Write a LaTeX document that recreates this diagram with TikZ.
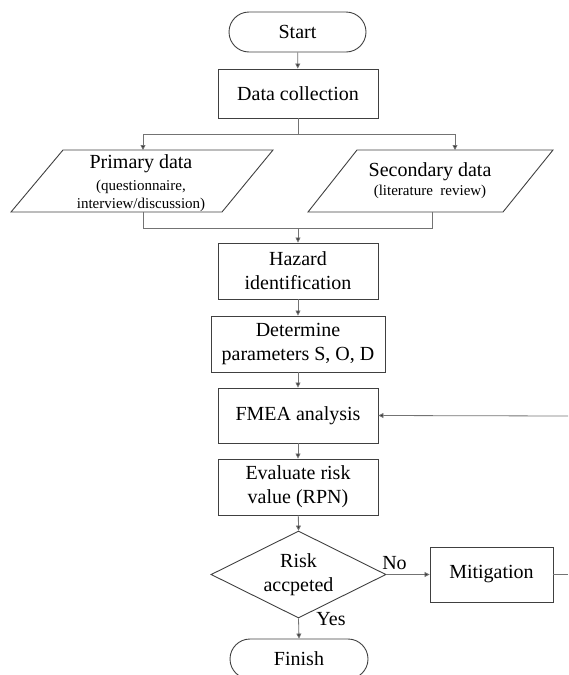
\documentclass[tikz,border=0pt]{standalone}
\usepackage{fontspec}
\setmainfont{Liberation Serif}
\usetikzlibrary{arrows.meta,shapes.geometric}
\begin{document}
\begin{tikzpicture}[x=1pt,y=-1pt,
  box/.style={draw=black!75,line width=0.9pt,rectangle,inner sep=0pt,align=center,font=\fontsize{20}{24}\selectfont},
  term/.style={box,rounded corners=20pt},
  txt/.style={inner sep=0pt,align=center,font=\fontsize{20}{24}\selectfont},
  small/.style={font=\fontsize{15}{18}\selectfont},
  shapeline/.style={draw=black!75,line width=0.9pt},
  conn/.style={draw=black!55,line width=0.8pt},
  arr/.style={conn,-{Triangle[length=5pt,width=5pt,fill=black!80]}},
  lab/.style={inner sep=0pt,font=\fontsize{20}{24}\selectfont}]
\useasboundingbox (0,0) rectangle (568,675);
\clip (0,0) rectangle (568,675);

\node[term,minimum width=137pt,minimum height=40pt] (start) at (297.5,32) {Start};
\node[box,minimum width=160pt,minimum height=49pt] (dc) at (298,93.5) {Data collection};

% parallelograms
\draw[shapeline] (63,150) -- (273,150) -- (222,212) -- (11,212) -- cycle;
\node[txt] (primary) at (141,183) {Primary data\\[-2pt]{\fontsize{15}{18}\selectfont (questionnaire,}\\[-6pt]{\fontsize{15}{18}\selectfont interview/discussion)}};
\draw[shapeline] (357,150) -- (553,150) -- (503,212) -- (308,212) -- cycle;
\node[txt] (secondary) at (430,181) {Secondary data\\[-5pt]{\fontsize{15}{18}\selectfont (literature\ \ review)}};

\coordinate (pt) at (143,150);
\coordinate (st) at (455,150);
\coordinate (pb) at (143,212);
\coordinate (sb) at (432,212);
\coordinate (split) at (298,134);
\coordinate (join) at (298,228);

\node[box,minimum width=160pt,minimum height=56pt] (hz) at (298,271) {Hazard\\identification};
\node[box,minimum width=174pt,minimum height=56pt] (dp) at (298,344) {Determine\\parameters S, O, D};
\node[box,minimum width=160pt,minimum height=55pt] (fm) at (298,415.5) {FMEA analysis};
\node[box,minimum width=160pt,minimum height=56pt] (ev) at (298,487) {Evaluate risk\\value (RPN)};
\node[box,diamond,aspect=2,minimum width=175pt,minimum height=87pt] (dia) at (298.5,574.5) {Risk\\accpeted};
\node[box,minimum width=123pt,minimum height=55pt] (mit) at (491.5,574.5) {Mitigation};
\node[term,minimum width=138pt,minimum height=40pt] (fin) at (299,659) {Finish};

\coordinate (edgeA) at (568,574.5);
\coordinate (edgeB) at (568,416);

\draw[arr] (start) -- (dc);
\draw[conn] (dc.south) -- (split);
\draw[arr] (split) -| (pt);
\draw[arr] (split) -| (st);
\draw[conn] (pb) |- (join);
\draw[conn] (sb) |- (join);
\draw[arr] (join) -- (hz.north);
\draw[arr] (hz) -- (dp);
\draw[arr] (dp) -- (fm);
\draw[arr] (fm) -- (ev);
\draw[arr] (ev) -- (dia.north);
\draw[arr] (dia.east) -- (mit.west);
\draw[conn] (mit.east) -- (edgeA);
\draw[arr] (edgeB) -- (fm.east);
\draw[arr] (dia.south) -- (fin.north);

\node[lab] (no) at (394.5,563) {No};
\node[lab] (yes) at (331,619) {Yes};
\end{tikzpicture}
\end{document}
